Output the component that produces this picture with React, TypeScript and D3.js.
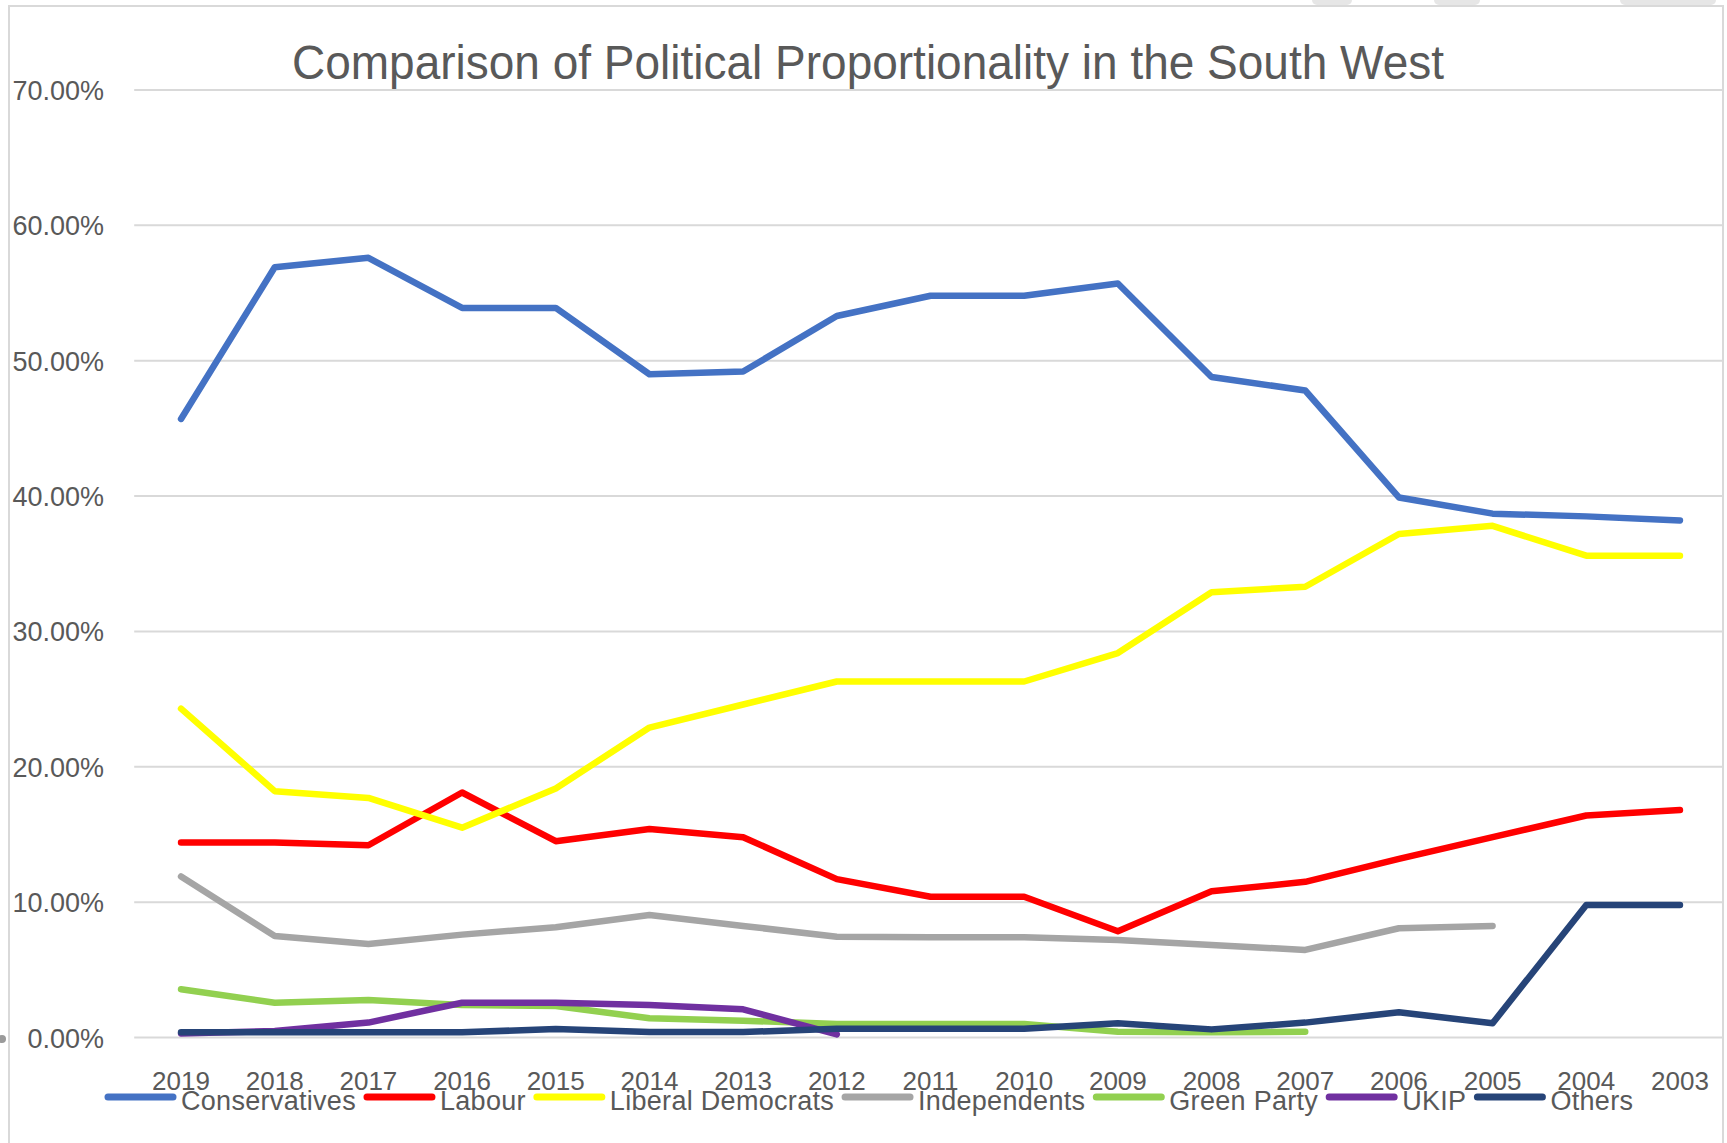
import React, { useEffect, useRef } from "react";
import * as d3 from "d3";

const years = ["2019","2018","2017","2016","2015","2014","2013","2012","2011","2010","2009","2008","2007","2006","2005","2004","2003"];
const conservatives = [45.7,56.9,57.6,53.9,53.9,49.0,49.2,53.3,54.8,54.8,55.7,48.8,47.8,39.9,38.7,38.5,38.2];
const labour = [14.4,14.4,14.2,18.1,14.5,15.4,14.8,11.7,10.4,10.4,7.85,10.8,11.5,13.2,14.8,16.4,16.8];
const libDems = [24.3,18.2,17.7,15.5,18.4,22.9,24.6,26.3,26.3,26.3,28.4,32.9,33.3,37.2,37.8,35.6,35.6];
const independents = [11.9,7.5,6.9,7.6,8.15,9.05,8.24,7.45,7.4,7.4,7.2,6.84,6.47,8.07,8.24,null,null];
const greenParty = [3.56,2.57,2.77,2.4,2.33,1.42,1.24,1.0,1.0,1.0,0.43,0.38,0.43,null,null,null,null];
const ukip = [0.3,0.48,1.1,2.57,2.57,2.4,2.08,0.23,null,null,null,null,null,null,null,null,null];
const others = [0.38,0.38,0.38,0.38,0.63,0.4,0.4,0.65,0.65,0.65,1.05,0.6,1.1,1.86,1.05,9.79,9.79];

const seriesNames = ["Conservatives","Labour","Liberal Democrats","Independents","Green Party","UKIP","Others"];
const seriesColors = ["#4472C4","#FF0000","#FFFF00","#A5A5A5","#92D050","#7030A0","#264478"];
const seriesValues = [conservatives, labour, libDems, independents, greenParty, ukip, others];
const yTicks = [0,10,20,30,40,50,60,70];
const title = "Comparison of Political Proportionality in the South West";

export default function App() {
  const ref = useRef<SVGSVGElement>(null);
  useEffect(() => {
    const svg = d3.select(ref.current);
    svg.selectAll("*").remove();
    const W = 1727, H = 1143;
    const left = 134.2, right = 1726.8, top = 90, bottom = 1037.5;
    const font = "'Liberation Sans', Arial, sans-serif";
    const txt = "#595959";

    svg.append("rect").attr("width", W).attr("height", H).attr("fill", "#fff");
    [[1312,40],[1434,46],[1620,96]].forEach(([x,w]) => {
      svg.append("rect").attr("x", x).attr("y", -6).attr("width", w).attr("height", 11).attr("rx", 5).attr("fill", "#e6e6e6");
    });

    const x = d3.scalePoint<string>().domain(years).range([left, right]).padding(0.5);
    const y = d3.scaleLinear().domain([0, 70]).range([bottom, top]);

    const g = svg.append("g");
    const clipId = "plotclip";
    svg.append("clipPath").attr("id", clipId).append("rect").attr("x", 0).attr("y", 0).attr("width", 1722).attr("height", H);

    g.selectAll("line.grid").data(yTicks).enter().append("line")
      .attr("x1", left).attr("x2", 1722)
      .attr("y1", d => y(d)).attr("y2", d => y(d))
      .attr("stroke", "#D9D9D9").attr("stroke-width", 2);

    g.selectAll("text.ytick").data(yTicks).enter().append("text")
      .attr("x", 104).attr("y", d => y(d) + 10)
      .attr("text-anchor", "end")
      .attr("font-family", font).attr("font-size", 27).attr("fill", txt)
      .text(d => d3.format(".2f")(d) + "%");

    g.selectAll("text.xtick").data(years).enter().append("text")
      .attr("x", d => x(d)!).attr("y", 1090)
      .attr("text-anchor", "middle")
      .attr("font-family", font).attr("font-size", 26).attr("fill", txt)
      .text(d => d);

    const line = d3.line<number | null>()
      .defined(d => d !== null)
      .x((_, i) => x(years[i])!)
      .y(d => y(d as number));

    const lg = svg.append("g").attr("clip-path", `url(#${clipId})`);
    seriesValues.forEach((vals, i) => {
      lg.append("path").attr("d", line(vals))
        .attr("fill", "none").attr("stroke", seriesColors[i])
        .attr("stroke-width", 6.5).attr("stroke-linejoin", "round").attr("stroke-linecap", "round");
    });

    svg.append("text").attr("x", 868).attr("y", 79).attr("text-anchor", "middle")
      .attr("font-family", font).attr("font-size", 49).attr("fill", txt)
      .attr("textLength", 1152).attr("lengthAdjust", "spacingAndGlyphs")
      .text(title);

    let lx = 105;
    const ly = 1097;
    seriesNames.forEach((name, i) => {
      svg.append("line").attr("x1", lx + 3).attr("x2", lx + 68).attr("y1", ly).attr("y2", ly)
        .attr("stroke", seriesColors[i]).attr("stroke-width", 7).attr("stroke-linecap", "round");
      const t = svg.append("text").attr("x", lx + 76).attr("y", 1110)
        .attr("font-family", font).attr("font-size", 27).attr("fill", txt)
        .attr("letter-spacing", 0.3).text(name);
      const w = (t.node() as SVGTextElement).getComputedTextLength();
      lx = lx + 76 + w + 8;
    });

    svg.append("rect").attr("x", 9).attr("y", 6).attr("width", 1714).attr("height", 1160)
      .attr("fill", "none").attr("stroke", "#D9D9D9").attr("stroke-width", 2);
    svg.append("circle").attr("cx", 2).attr("cy", 1039).attr("r", 4).attr("fill", "#9a9a9a");
  }, []);
  return <svg ref={ref} width={1727} height={1143} style={{ position: "absolute", left: 0, top: 0, display: "block" }} />;
}
